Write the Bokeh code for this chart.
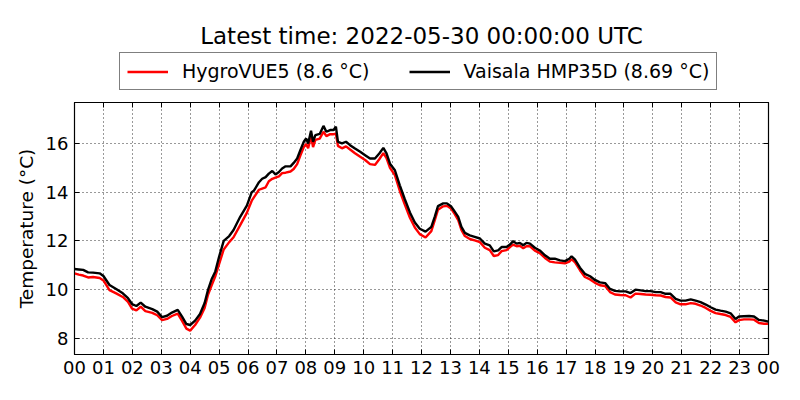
from bokeh.plotting import figure
from bokeh.models import Range1d, FixedTicker, Legend, LegendItem, LinearAxis
from bokeh.layouts import column
from bokeh.embed import file_html
from bokeh.resources import INLINE

hours = [0.00, 0.15, 0.30, 0.47, 0.64, 0.87, 1.00, 1.21, 1.44, 1.67, 1.85, 1.99, 2.14, 2.29, 2.45, 2.69,
         2.86, 3.03, 3.20, 3.37, 3.57, 3.72, 3.87, 4.00, 4.17, 4.34, 4.50, 4.62, 4.75, 4.87, 5.00, 5.16,
         5.35, 5.50, 5.73, 5.96, 6.13, 6.21, 6.38, 6.49, 6.61, 6.72, 6.84, 6.95, 7.07, 7.18, 7.30, 7.47,
         7.58, 7.70, 7.81, 7.93, 8.01, 8.08, 8.18, 8.25, 8.33, 8.48, 8.61, 8.71, 8.84, 8.96, 9.04, 9.11,
         9.25, 9.39, 9.53, 9.70, 9.88, 10.05, 10.22, 10.39, 10.54, 10.68, 10.79, 10.91, 11.08, 11.25,
         11.42, 11.60, 11.77, 11.94, 12.14, 12.34, 12.46, 12.57, 12.75, 12.88, 13.03, 13.15, 13.27,
         13.38, 13.50, 13.67, 13.84, 14.02, 14.19, 14.36, 14.50, 14.65, 14.77, 14.94, 15.06, 15.17,
         15.29, 15.40, 15.52, 15.63, 15.75, 15.92, 16.09, 16.27, 16.44, 16.61, 16.79, 16.96, 17.11,
         17.19, 17.31, 17.48, 17.65, 17.83, 18.00, 18.17, 18.35, 18.52, 18.69, 18.87, 19.06, 19.23,
         19.40, 19.58, 19.75, 19.92, 20.10, 20.27, 20.44, 20.61, 20.79, 20.96, 21.13, 21.31, 21.48,
         21.65, 21.83, 22.00, 22.17, 22.34, 22.52, 22.69, 22.86, 22.98, 23.15, 23.33, 23.50, 23.67,
         23.85, 24.00]

hmp35d = [10.85, 10.83, 10.81, 10.71, 10.70, 10.67, 10.56, 10.19, 10.03, 9.85, 9.65, 9.41, 9.33, 9.47,
          9.30, 9.20, 9.10, 8.87, 8.93, 9.06, 9.17, 8.89, 8.59, 8.55, 8.73, 9.00, 9.45, 10.00, 10.45,
          10.75, 11.35, 12.00, 12.20, 12.45, 12.99, 13.45, 14.00, 14.07, 14.41, 14.55, 14.62, 14.76,
          14.87, 14.73, 14.83, 14.97, 15.06, 15.06, 15.20, 15.38, 15.72, 16.07, 16.21, 16.00, 16.52,
          16.07, 16.34, 16.39, 16.72, 16.48, 16.55, 16.55, 16.69, 16.07, 16.00, 16.07, 15.93, 15.79,
          15.66, 15.52, 15.38, 15.38, 15.59, 15.82, 15.59, 15.17, 14.90, 14.28, 13.72, 13.17, 12.76,
          12.50, 12.38, 12.58, 13.00, 13.43, 13.54, 13.54, 13.41, 13.20, 12.99, 12.58, 12.33, 12.23,
          12.17, 12.10, 11.89, 11.82, 11.57, 11.61, 11.75, 11.75, 11.85, 11.99, 11.89, 11.92, 11.82,
          11.92, 11.89, 11.72, 11.61, 11.41, 11.27, 11.27, 11.20, 11.17, 11.27, 11.37, 11.23, 10.90,
          10.65, 10.55, 10.40, 10.30, 10.27, 10.03, 9.95, 9.93, 9.93, 9.86, 10.00, 9.97, 9.94, 9.94,
          9.90, 9.90, 9.83, 9.83, 9.62, 9.55, 9.55, 9.60, 9.55, 9.49, 9.39, 9.28, 9.18, 9.14, 9.10,
          9.03, 8.80, 8.90, 8.91, 8.92, 8.90, 8.76, 8.73, 8.69]

hygrovue5 = [10.67, 10.62, 10.58, 10.50, 10.52, 10.48, 10.38, 9.98, 9.85, 9.70, 9.50, 9.22, 9.15, 9.30,
             9.12, 9.05, 8.95, 8.75, 8.80, 8.92, 9.02, 8.72, 8.40, 8.32, 8.55, 8.85, 9.25, 9.80, 10.20,
             10.55, 11.05, 11.65, 11.95, 12.15, 12.65, 13.15, 13.65, 13.80, 14.10, 14.15, 14.20, 14.45,
             14.55, 14.60, 14.65, 14.78, 14.80, 14.85, 14.95, 15.15, 15.50, 15.85, 15.98, 15.80, 16.30,
             15.85, 16.15, 16.20, 16.48, 16.30, 16.38, 16.38, 16.40, 15.90, 15.80, 15.88, 15.75, 15.60,
             15.45, 15.32, 15.15, 15.12, 15.35, 15.60, 15.40, 15.00, 14.70, 14.05, 13.50, 12.95, 12.55,
             12.28, 12.14, 12.40, 12.85, 13.28, 13.42, 13.44, 13.32, 13.10, 12.85, 12.45, 12.20, 12.08,
             12.02, 11.95, 11.72, 11.62, 11.38, 11.42, 11.58, 11.62, 11.75, 11.85, 11.78, 11.80, 11.70,
             11.78, 11.78, 11.60, 11.50, 11.30, 11.15, 11.12, 11.10, 11.08, 11.15, 11.25, 11.12, 10.80,
             10.52, 10.42, 10.28, 10.18, 10.15, 9.90, 9.80, 9.78, 9.77, 9.68, 9.84, 9.82, 9.80, 9.79,
             9.77, 9.76, 9.70, 9.68, 9.48, 9.40, 9.40, 9.45, 9.42, 9.35, 9.25, 9.13, 9.04, 9.00, 8.96,
             8.88, 8.66, 8.75, 8.78, 8.78, 8.77, 8.63, 8.60, 8.60]

x_ticks = [0, 1, 2, 3, 4, 5, 6, 7, 8, 9, 10, 11, 12, 13, 14, 15, 16, 17, 18, 19, 20, 21, 22, 23, 24]
x_tick_labels = ["00", "01", "02", "03", "04", "05", "06", "07", "08", "09", "10", "11", "12",
                 "13", "14", "15", "16", "17", "18", "19", "20", "21", "22", "23", "00"]
y_ticks = [8, 10, 12, 14, 16]

title_text = "Latest time: 2022-05-30 00:00:00 UTC"
label_hygro = "HygroVUE5 (8.6 °C)"
label_hmp = "Vaisala HMP35D (8.69 °C)"
y_label = "Temperature (°C)"

FONT = "DejaVu Sans"
RED = "#ff0000"
BLACK = "#000000"
LW = 2.4

# ---- header: title + legend (same series, drawn off-range so only the legend keys show) ----
head = figure(width=792, height=100, output_backend="svg", toolbar_location=None,
              x_axis_type=None, y_axis_type=None, x_range=Range1d(0, 24), y_range=Range1d(100, 101),
              min_border_left=74, min_border_right=24, min_border_top=52, min_border_bottom=0)
head.outline_line_color = None
head.background_fill_color = "white"
head.border_fill_color = "white"
head.title.text = title_text
head.title.align = "center"
head.title.text_font = FONT
head.title.text_font_size = "23px"
head.title.text_font_style = "normal"
head.title.text_color = "black"
head.title.standoff = 8

key_red = head.line(hours, hygrovue5, line_color=RED, line_width=LW)
key_blk = head.line(hours, hmp35d, line_color=BLACK, line_width=LW)

legend = Legend(items=[LegendItem(label=label_hygro, renderers=[key_red]),
                       LegendItem(label=label_hmp, renderers=[key_blk])],
                orientation="horizontal", location=(45, 10))
legend.border_line_color = "black"
legend.border_line_width = 1
legend.background_fill_color = "white"
legend.label_text_font = FONT
legend.label_text_font_size = "19px"
legend.label_text_color = "black"
legend.glyph_width = 41
legend.glyph_height = 21
legend.label_height = 21
legend.label_standoff = 14
legend.spacing = 39
legend.padding = 7
legend.margin = 0
head.add_layout(legend)

# ---- main plot ----
p = figure(width=792, height=292, output_backend="svg", toolbar_location=None,
           x_range=Range1d(0, 24), y_range=Range1d(7.34, 17.68),
           min_border_left=74, min_border_right=24, min_border_bottom=38, min_border_top=2)

p.background_fill_color = "white"
p.border_fill_color = "white"
p.outline_line_color = "black"
p.outline_line_width = 1.2

xt = FixedTicker(ticks=x_ticks)
yt = FixedTicker(ticks=y_ticks)

xa = p.xaxis[0]
xa.ticker = xt
xa.major_label_overrides = {t: l for t, l in zip(x_ticks, x_tick_labels)}
ya = p.yaxis[0]
ya.ticker = yt
ya.axis_label = y_label
for ax in (xa, ya):
    ax.major_tick_in = 5
    ax.major_tick_out = 0
    ax.minor_tick_in = 0
    ax.minor_tick_out = 0
    ax.major_tick_line_color = "black"
    ax.axis_line_color = "black"
    ax.major_label_text_font = FONT
    ax.major_label_text_font_size = "18px"
    ax.major_label_text_color = "black"
    ax.major_label_standoff = 6
    ax.axis_label_text_font = FONT
    ax.axis_label_text_font_size = "18.5px"
    ax.axis_label_text_font_style = "normal"
    ax.axis_label_text_color = "black"
    ax.axis_label_standoff = 6

p.xgrid.ticker = xt
p.ygrid.ticker = yt
for g in (p.xgrid, p.ygrid):
    g.grid_line_color = "black"
    g.grid_line_dash = "1 3"
    g.grid_line_alpha = 0.8
    g.grid_line_width = 1

p.line(hours, hygrovue5, line_color=RED, line_width=LW)
p.line(hours, hmp35d, line_color=BLACK, line_width=LW)

top = LinearAxis(ticker=xt, major_label_overrides={t: "" for t in x_ticks},
                 major_label_text_font_size="1px", major_tick_in=5, major_tick_out=0,
                 minor_tick_in=0, minor_tick_out=0, major_label_standoff=0, axis_line_color="black")
right = LinearAxis(ticker=yt, major_label_overrides={t: "" for t in y_ticks},
                   major_label_text_font_size="1px", major_tick_in=5, major_tick_out=0,
                   minor_tick_in=0, minor_tick_out=0, major_label_standoff=0, axis_line_color="black")
p.add_layout(top, "above")
p.add_layout(right, "right")

layout = column(head, p, spacing=0)
open("out.html", "w").write(file_html(layout, INLINE))
